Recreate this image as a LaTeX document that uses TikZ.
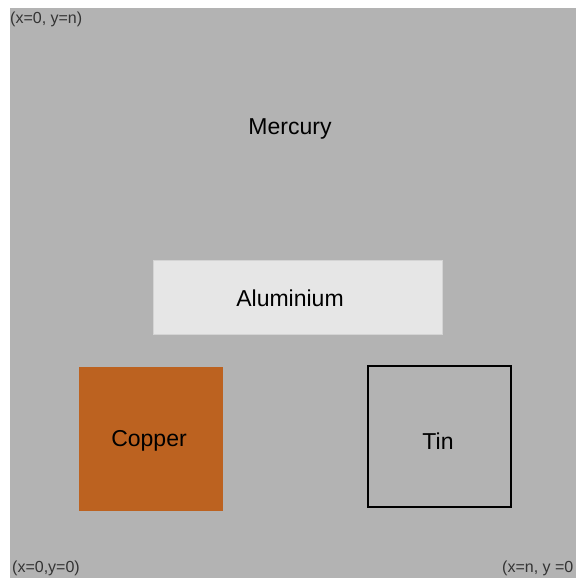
\documentclass[tikz,border=0pt]{standalone}
\usepackage{fontspec}
\setmainfont{Liberation Sans}
\definecolor{bg}{HTML}{B3B3B3}
\definecolor{alu}{HTML}{E6E6E6}
\definecolor{aluedge}{HTML}{D4D4D4}
\definecolor{copper}{HTML}{BC6220}
\definecolor{corner}{HTML}{333333}
\begin{document}
\begin{tikzpicture}[x=1pt,y=-1pt,
  lbl/.style={font=\fontsize{23}{27}\selectfont, text=black, inner sep=0pt},
  cornerlbl/.style={font=\fontsize{16}{19}\selectfont, text=corner, inner sep=0pt},
]
\useasboundingbox (0,0) rectangle (576,578);
\fill[white] (0,0) rectangle (576,578);
\fill[bg] (10,8) rectangle (576,578);
% boxes
\draw[aluedge, fill=alu, line width=1pt] (153,260) rectangle (442,334);
\fill[copper] (79,367) rectangle (223,511);
\draw[black, line width=2pt] (368,366) rectangle (511,507);
% labels
\node[lbl] (mercury) at (290,129) {Mercury};
\node[lbl] (aluminium) at (290,298) {Aluminium};
\node[lbl] (copperlbl) at (149,441) {Copper};
\node[lbl] (tin) at (438,441) {Tin};
\node[cornerlbl, anchor=west] (tl) at (10,19) {(x=0, y=n)};
\node[cornerlbl, anchor=west] (bl) at (12,568) {(x=0,y=0)};
\node[cornerlbl, anchor=west] (br) at (502,568) {(x=n, y =0};
\end{tikzpicture}
\end{document}
